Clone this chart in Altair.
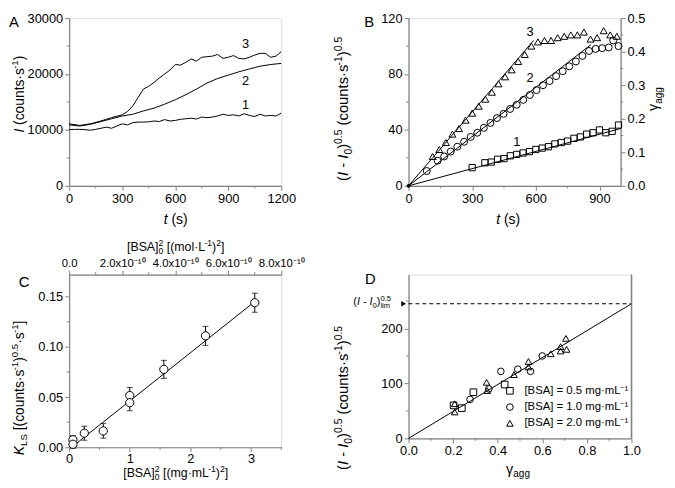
import altair as alt
import pandas as pd

FONT = "Liberation Sans"
GREY = "#808080"

# ---------------- Panel A : light scattering intensity vs time ----------------
a_t1 = list(range(0, 1201, 30))
a_i1 = [10050, 10100, 10100, 10050, 9950, 10100, 10300, 10500, 10300, 10700,
        11100, 10900, 11300, 11400, 11400, 11450, 11600, 11500, 11850, 11600,
        11700, 11900, 12000, 12100, 11950, 12300, 12200, 12300, 12500, 12800,
        12600, 12700, 12500, 12900, 12600, 12400, 12800, 12500, 12600, 12500, 13000]
a_t2 = list(range(0, 1201, 60))
a_i2 = [10900, 10700, 11000, 11500, 12000, 12500, 12800, 13400, 13900, 14600, 15400,
        16300, 17300, 18400, 19200, 19800, 20400, 20900, 21400, 21700, 21900]
a_t3 = [0, 60, 120, 180, 240, 300, 330, 360, 390, 420, 450, 480, 510, 540, 570, 600,
        630, 660, 690, 720, 750, 780, 810, 840, 870, 900, 930, 960, 990, 1020, 1050,
        1080, 1110, 1140, 1170, 1200]
a_i3 = [11100, 10800, 11100, 11600, 12200, 12700, 13300, 14300, 15800, 17300, 17800,
        18500, 19300, 20000, 20700, 21700, 21600, 22100, 22700, 22300, 23000, 23100,
        23200, 23500, 22800, 23000, 23300, 22800, 22700, 23000, 23400, 23700, 23700,
        23000, 23200, 24000]
a_lab_t = [998, 998, 998]
a_lab_i = [25300, 18800, 14500]
a_lab = ["3", "2", "1"]

# ---------------- Panel B : (I - I0)^0.5 vs time ----------------
b_t1 = [300, 360, 390, 420, 450, 480, 510, 540, 570, 600, 630, 660, 690, 720, 750,
        780, 810, 840, 870, 900, 930, 960, 990]
b_v1 = [13, 16.5, 17, 19, 19.5, 21.5, 22.5, 23.5, 24.5, 26, 27, 28, 30, 31, 32,
        34, 35, 37, 38, 40, 38, 39, 43.5]
b_t2 = [86, 137, 168, 199, 230, 262, 293, 324, 355, 386, 417, 448, 479, 510, 541,
        572, 603, 634, 665, 696, 727, 758, 789, 820, 851, 882, 913, 944, 965, 990]
b_v2 = [10.6, 18, 21, 24.5, 28, 31.5, 35, 38, 41.5, 45, 48.5, 51.5, 55, 58, 61.5,
        65, 68.5, 72, 75, 78.5, 82, 85.5, 89, 93, 96.5, 98, 98.5, 99, 104, 100]
b_t3 = [114, 145, 176, 207, 238, 269, 300, 331, 362, 393, 424, 455, 486, 517, 548,
        579, 610, 641, 672, 703, 734, 765, 796, 827, 858, 889, 920, 951, 982]
b_v3 = [21, 26, 31, 37, 41, 47, 52, 57, 62, 67, 73, 78, 83, 89, 94,
        100, 103, 104, 104, 106, 107, 108, 108, 110, 105, 106, 111, 108, 107]
b_fit_series = ["1", "1", "2", "2", "3", "3"]
b_fit_t = [0, 1000, 0, 860, 0, 590]
b_fit_v = [0, 41, 0, 101, 0, 104]
b_lab_t = [573, 573, 510]
b_lab_v = [110, 77, 31]
b_lab = ["3", "2", "1"]

# ---------------- Panel C : K_LS vs [BSA]^2 ----------------
c_x = [0.0625, 0.0625, 0.25, 0.5625, 1.0, 1.0, 1.5625, 2.25, 3.0625]
c_y = [0.0075, 0.003, 0.014, 0.0163, 0.0515, 0.0444, 0.0776, 0.111, 0.144]
c_err = [0.004, 0.004, 0.007, 0.0073, 0.008, 0.008, 0.009, 0.0095, 0.0095]
c_fit_x = [0.04, 3.07]
c_fit_y = [0.0, 0.1455]

# ---------------- Panel D : (I - I0)^0.5 vs gamma_agg ----------------
d_leg = ["[BSA] = 0.5 mg·mL⁻¹", "[BSA] = 1.0 mg·mL⁻¹", "[BSA] = 2.0 mg·mL⁻¹"]
d_g1 = [0.202, 0.239, 0.291, 0.431]
d_v1 = [60, 55, 84, 98]
d_g2 = [0.276, 0.360, 0.414, 0.490, 0.547, 0.600]
d_v2 = [71, 90, 122, 126, 122, 150]
d_g3 = [0.207, 0.207, 0.350, 0.353, 0.473, 0.538, 0.538, 0.638, 0.682, 0.682, 0.706, 0.709]
d_v3 = [63, 48, 102, 87, 116, 140, 130, 154, 167, 159, 182, 162]
d_lim = 245
d_fit_g = [0.0, 1.0]
d_fit_v = [0, 245]

# ---------------- helpers ----------------
W = {' ': .278, '(': .333, ')': .333, '[': .278, ']': .278, '-': .333, '·': .278,
     '.': .278, 'x': .5, 'a': .556, 'c': .5, 'g': .556, 'i': .222, 'l': .222,
     'm': .833, 'n': .556, 'o': .556, 's': .5, 't': .278, 'u': .556, 'A': .667,
     'B': .667, 'C': .722, 'D': .722, 'I': .278, 'K': .667, 'L': .556, 'S': .667,
     'γ': .5, '=': .584}


def tw(text, size):
    return sum(W.get(c, .556) for c in text) * size


def rich(segs, x, y, F, angle=0, anchor='center'):
    items, total = [], 0.0
    for s in segs:
        text, kind = s[0], s[1]
        it = s[2] if len(s) > 2 else False
        adv = s[3] if len(s) > 3 else True
        size = F if kind == 'n' else F * 0.7
        w = tw(text, size)
        lead = tw(text[:len(text) - len(text.lstrip(' '))], size)
        shift = 0 if kind == 'n' else (-0.42 * F if kind == 'sup' else 0.25 * F)
        items.append((text.strip(' '), size, it, adv, w, lead, shift))
        if adv:
            total += w
    pos = {'center': -total / 2, 'left': 0.0, 'right': -total}[anchor]
    rows = []
    for text, size, it, adv, w, lead, shift in items:
        p = pos + lead
        if angle == 0:
            px, py = x + p, y + shift
        else:
            px, py = x + shift, y - p
        rows.append(dict(x=px, y=py, text=text, size=size, angle=angle, it=it))
        if adv:
            pos += w
    return rows


def text_group(rows, w, h):
    df = pd.DataFrame(rows)
    out = []
    for it in (False, True):
        sub = df[df['it'] == it].drop(columns='it')
        if len(sub) == 0:
            continue
        out.append(alt.Chart(sub).mark_text(
            align='left', baseline='alphabetic', font=FONT,
            fontStyle='italic' if it else 'normal', color='black').encode(
            x=alt.X('x:Q', scale=alt.Scale(domain=[0, w], nice=False, zero=False), axis=None),
            y=alt.Y('y:Q', scale=alt.Scale(domain=[0, h], nice=False, zero=False, reverse=True),
                    axis=None),
            text='text:N',
            size=alt.Size('size:Q', scale=None, legend=None),
            angle=alt.Angle('angle:Q', scale=None, legend=None)))
    return alt.layer(*out)


def axis(values, fmt, orient, size=13, **kw):
    d = dict(values=values, format=fmt, title=None, grid=False, domainColor=GREY,
             domainWidth=1.2, tickColor=GREY, tickWidth=1, tickSize=4.5,
             labelFont=FONT, labelFontSize=size, labelColor='black', labelPadding=2,
             labelOverlap=False, labelFlush=False, orient=orient)
    d.update(kw)
    return alt.Axis(**d)


def sc(dom):
    return alt.Scale(domain=dom, nice=False, zero=False)


def minor_x(vals, xs, xa, y0, y1):
    return alt.Chart(pd.DataFrame({'m': vals})).mark_rule(color=GREY, strokeWidth=1).encode(
        x=alt.X('m:Q', scale=xs, axis=xa), y=alt.value(y0), y2=alt.value(y1))


def minor_y(vals, ys, ya, x0, x1):
    return alt.Chart(pd.DataFrame({'m': vals})).mark_rule(color=GREY, strokeWidth=1).encode(
        y=alt.Y('m:Q', scale=ys, axis=ya), x=alt.value(x0), x2=alt.value(x1))


# ---------------- Panel A ----------------
AW, AH = 215, 170
axs, ays = sc([0, 1200]), sc([0, 30000])
axa = axis([0, 300, 600, 900, 1200], 'd', 'bottom')
aya = axis([0, 10000, 20000, 30000], 'd', 'left')
a_df = pd.concat([
    pd.DataFrame({'t': a_t1, 'I': a_i1, 's': '1'}),
    pd.DataFrame({'t': a_t2, 'I': a_i2, 's': '2'}),
    pd.DataFrame({'t': a_t3, 'I': a_i3, 's': '3'})])
a_lines = alt.Chart(a_df).mark_line(color='black', strokeWidth=1).encode(
    x=alt.X('t:Q', scale=axs, axis=axa), y=alt.Y('I:Q', scale=ays, axis=aya), detail='s:N')
a_labels = alt.Chart(pd.DataFrame({'t': a_lab_t, 'I': a_lab_i, 'l': a_lab})).mark_text(
    font=FONT, fontSize=13, color='black').encode(
    x=alt.X('t:Q', scale=axs, axis=axa), y=alt.Y('I:Q', scale=ays, axis=aya), text='l:N')
a_rows = (rich([("A", 'n')], -61, 9, 15, anchor='left')
          + rich([("I", 'n', True), (" (counts·s", 'n'), ("-1", 'sup'), (")", 'n')],
                 -46, 116, 14, angle=270, anchor='left')
          + rich([("t", 'n', True), (" (s)", 'n')], 108, 209, 14))
a_main = alt.layer(
    a_lines, a_labels,
    minor_x([150, 450, 750, 1050], axs, axa, AH, AH + 2.5),
    minor_y([5000, 15000, 25000], ays, aya, 0, -2.5))
panelA = alt.layer(a_main, text_group(a_rows, AW, AH)).resolve_scale(
    x='independent', y='independent').properties(width=AW, height=AH)

# ---------------- Panel B ----------------
BW, BH = 215, 170
bxs, bys = sc([0, 1000]), sc([0, 120])
bxa = axis([0, 300, 600, 900], 'd', 'bottom')
bya = axis([0, 40, 80, 120], 'd', 'left')


def bpts(t, v, shape, size):
    return alt.Chart(pd.DataFrame({'t': t, 'v': v})).mark_point(
        shape=shape, filled=False, color='black', strokeWidth=1, size=size, opacity=1).encode(
        x=alt.X('t:Q', scale=bxs, axis=bxa), y=alt.Y('v:Q', scale=bys, axis=bya))


b_fit = alt.Chart(pd.DataFrame({'s': b_fit_series, 't': b_fit_t, 'v': b_fit_v})).mark_line(
    color='black', strokeWidth=1).encode(
    x=alt.X('t:Q', scale=bxs, axis=bxa), y=alt.Y('v:Q', scale=bys, axis=bya), detail='s:N')
b_origin = alt.Chart(pd.DataFrame({'t': [0], 'v': [0]})).mark_point(
    shape='circle', filled=True, color='black', size=14, opacity=1).encode(
    x=alt.X('t:Q', scale=bxs, axis=bxa), y=alt.Y('v:Q', scale=bys, axis=bya))
b_labels = alt.Chart(pd.DataFrame({'t': b_lab_t, 'v': b_lab_v, 'l': b_lab})).mark_text(
    font=FONT, fontSize=13, color='black').encode(
    x=alt.X('t:Q', scale=bxs, axis=bxa), y=alt.Y('v:Q', scale=bys, axis=bya), text='l:N')
b_ytitle = [("(", 'n'), ("I", 'n', True), (" - ", 'n'), ("I", 'n', True), ("0", 'sub'),
            (")", 'n'), ("0.5", 'sup'), (" (counts·s", 'n'), ("-1", 'sup'), (")", 'n'),
            ("0.5", 'sup')]
b_rows = (rich([("B", 'n')], -45, 9, 15, anchor='left')
          + rich(b_ytitle, -61, 92, 15, angle=270)
          + rich([("t", 'n', True), (" (s)", 'n')], 101, 209, 14)
          + rich([("γ", 'n'), ("agg", 'sub')], 253, 82, 14.5, angle=270))
b_main = alt.layer(
    b_fit, bpts(b_t1, b_v1, 'square', 40), bpts(b_t2, b_v2, 'circle', 50),
    bpts(b_t3, b_v3, 'triangle-up', 50), b_origin, b_labels,
    minor_x([150, 450, 750], bxs, bxa, BH, BH + 2.5),
    minor_y([20, 60, 100], bys, bya, 0, -2.5))
b_gamma = minor_y([0.05, 0.15, 0.25, 0.35, 0.45], sc([0, 0.5]),
                  axis([0, 0.1, 0.2, 0.3, 0.4, 0.5], '.1f', 'right'), BW, BW + 2.5)
panelB = alt.layer(b_main, b_gamma, text_group(b_rows, BW, BH)).resolve_scale(
    x='independent', y='independent').properties(width=BW, height=BH)

# ---------------- Panel C ----------------
CW, CH = 215, 175
cxs, cys = sc([0, 3.5]), sc([0, 0.172])
cxa = axis([0, 1, 2, 3], 'd', 'bottom', labelPadding=1)
cya = axis([0, 0.05, 0.10, 0.15], '.2f', 'left')
c_df = pd.DataFrame({'x': c_x, 'y': c_y, 'lo': [a - b for a, b in zip(c_y, c_err)],
                     'hi': [a + b for a, b in zip(c_y, c_err)]})
c_fit = alt.Chart(pd.DataFrame({'x': c_fit_x, 'y': c_fit_y})).mark_line(
    color='black', strokeWidth=1).encode(
    x=alt.X('x:Q', scale=cxs, axis=cxa), y=alt.Y('y:Q', scale=cys, axis=cya))
c_bars = alt.Chart(c_df).mark_rule(color='black', strokeWidth=1).encode(
    x=alt.X('x:Q', scale=cxs, axis=cxa), y=alt.Y('lo:Q', scale=cys, axis=cya), y2='hi:Q')
c_cap_lo = alt.Chart(c_df).mark_tick(orient='horizontal', size=6, thickness=1, color='black').encode(
    x=alt.X('x:Q', scale=cxs, axis=cxa), y=alt.Y('lo:Q', scale=cys, axis=cya))
c_cap_hi = alt.Chart(c_df).mark_tick(orient='horizontal', size=6, thickness=1, color='black').encode(
    x=alt.X('x:Q', scale=cxs, axis=cxa), y=alt.Y('hi:Q', scale=cys, axis=cya))
c_pts = alt.Chart(c_df).mark_point(shape='circle', filled=True, fill='white', stroke='black',
                                   strokeWidth=1, size=70, opacity=1).encode(
    x=alt.X('x:Q', scale=cxs, axis=cxa), y=alt.Y('y:Q', scale=cys, axis=cya))
c_ytitle = [("K", 'n', True), ("LS", 'sub'), (" [(counts·s", 'n'), ("-1", 'sup'), (")", 'n'),
            ("0.5", 'sup'), ("·s", 'n'), ("-1", 'sup'), ("]", 'n')]
c_xb = [("[BSA]", 'n'), ("2", 'sup', False, False), ("0", 'sub'), (" [(mg·mL", 'n'),
        ("-1", 'sup'), (")", 'n'), ("2", 'sup'), ("]", 'n')]
c_xt = [("[BSA]", 'n'), ("2", 'sup', False, False), ("0", 'sub'), (" [(mol·L", 'n'),
        ("-1", 'sup'), (")", 'n'), ("2", 'sup'), ("]", 'n')]
c_rows = (rich([("C", 'n')], -51, 13, 15, anchor='left')
          + rich(c_ytitle, -46, 183, 14, angle=270, anchor='left')
          + rich(c_xb, 108, 205, 12.5)
          + rich(c_xt, 108, -24, 12.5))
c_main = alt.layer(
    c_fit, c_bars, c_cap_lo, c_cap_hi, c_pts,
    minor_x([0.5, 1.5, 2.5, 3.5], cxs, cxa, CH, CH + 2.5),
    minor_y([0.025, 0.075, 0.125], cys, cya, 0, -2.5))
top_lbl = ("round(datum.value*1e10) % 2 == 1 ? '' : (datum.value == 0 ? '0.0' : "
           "format(datum.value*1e10, '.1f') + 'x10⁻¹⁰')")
c_top = minor_x([1e-10, 3e-10, 5e-10, 7e-10], sc([0, 8e-10]),
                axis([0, 2e-10, 4e-10, 6e-10, 8e-10], '.2e', 'top', size=11.5,
                     labelExpr=top_lbl), 0, -2.5)
panelC = alt.layer(c_main, c_top, text_group(c_rows, CW, CH)).resolve_scale(
    x='independent', y='independent').properties(width=CW, height=CH)

# ---------------- Panel D ----------------
DW, DH = 226, 166
dxs, dys = sc([0, 1]), sc([0, 298])
dxa = axis([0, 0.2, 0.4, 0.6, 0.8, 1.0], '.1f', 'bottom')
dya = axis([0, 100, 200], 'd', 'left')
d_df = pd.concat([
    pd.DataFrame({'g': d_g1, 'v': d_v1, 'c': d_leg[0]}),
    pd.DataFrame({'g': d_g2, 'v': d_v2, 'c': d_leg[1]}),
    pd.DataFrame({'g': d_g3, 'v': d_v3, 'c': d_leg[2]})])
d_fit = alt.Chart(pd.DataFrame({'g': d_fit_g, 'v': d_fit_v})).mark_line(
    color='black', strokeWidth=1).encode(
    x=alt.X('g:Q', scale=dxs, axis=dxa), y=alt.Y('v:Q', scale=dys, axis=dya))
d_limit = alt.Chart(pd.DataFrame({'g': [0.0, 1.0], 'v': [d_lim, d_lim]})).mark_line(
    color='black', strokeWidth=1, strokeDash=[4, 3]).encode(
    x=alt.X('g:Q', scale=dxs, axis=dxa), y=alt.Y('v:Q', scale=dys, axis=dya))
d_arrow = alt.Chart(pd.DataFrame({'g': [0.0], 'v': [d_lim]})).mark_point(
    shape='triangle-right', filled=True, color='black', size=30, opacity=1, xOffset=-5).encode(
    x=alt.X('g:Q', scale=dxs, axis=dxa), y=alt.Y('v:Q', scale=dys, axis=dya))
d_border = alt.Chart(pd.DataFrame({'g': [1.0]})).mark_rule(color=GREY, strokeWidth=1.5).encode(
    x=alt.X('g:Q', scale=dxs, axis=dxa), y=alt.value(0), y2=alt.value(DH))
d_pts = alt.Chart(d_df).mark_point(filled=False, color='black', strokeWidth=1, size=45,
                                   opacity=1).encode(
    x=alt.X('g:Q', scale=dxs, axis=dxa),
    y=alt.Y('v:Q', scale=dys, axis=dya),
    shape=alt.Shape('c:N', scale=alt.Scale(domain=d_leg, range=['square', 'circle', 'triangle-up']),
                    legend=alt.Legend(title=None, orient='none', legendX=97, legendY=112,
                                      labelFont=FONT, labelFontSize=11.5, labelColor='black',
                                      symbolSize=45, symbolStrokeWidth=1,
                                      symbolStrokeColor='black', rowPadding=3.5, padding=0,
                                      labelOffset=9)))
d_ann = [("(", 'n'), ("I", 'n', True), (" - ", 'n'), ("I", 'n', True), ("0", 'sub'),
         (")", 'n'), ("0.5", 'sup', False, False), ("lim", 'sub')]
d_rows = (rich([("D", 'n')], -44, 10, 15, anchor='left')
          + rich(b_ytitle, -61, 125, 15, angle=270)
          + rich([("γ", 'n'), ("agg", 'sub')], 111, 202, 14.5)
          + rich(d_ann, -56, 31, 11, anchor='left'))
d_main = alt.layer(
    d_fit, d_limit, d_border, d_arrow, d_pts,
    minor_x([0.1, 0.3, 0.5, 0.7, 0.9], dxs, dxa, DH, DH + 2.5),
    minor_y([50, 150, 250], dys, dya, 0, -2.5))
panelD = alt.layer(d_main, text_group(d_rows, DW, DH)).resolve_scale(
    x='independent', y='independent').properties(width=DW, height=DH)

chart = alt.concat(
    panelA, panelB, panelC, panelD, columns=2,
    spacing={"row": 90, "column": 129}, bounds='flush'
).resolve_legend(shape='independent').properties(
    padding={"left": 0, "top": 0, "right": 2, "bottom": 0}
).configure_view(stroke=None).configure(font=FONT)

chart.save("out.html", embed_options={"renderer": "svg", "actions": False})
